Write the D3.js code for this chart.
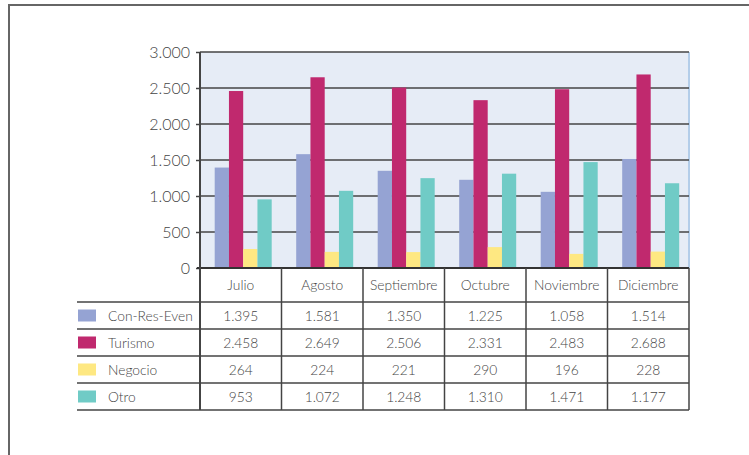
<!DOCTYPE html>
<head>
<meta charset="utf-8">
<style>
body { margin: 0; background: #fff; }
text { font-family: Lato, "Open Sans", sans-serif; font-weight: 300; fill: #444; }
</style>
</head>
<body>
<script src="https://cdnjs.cloudflare.com/ajax/libs/d3/7.8.5/d3.min.js"></script>
<script>

var months = ['Julio', 'Agosto', 'Septiembre', 'Octubre', 'Noviembre', 'Diciembre'];
var seriesNames = ['Con-Res-Even', 'Turismo', 'Negocio', 'Otro'];
var conResEven = [1395, 1581, 1350, 1225, 1058, 1514];
var turismo = [2458, 2649, 2506, 2331, 2483, 2688];
var negocio = [264, 224, 221, 290, 196, 228];
var otro = [953, 1072, 1248, 1310, 1471, 1177];
var yTicks = [0, 500, 1000, 1500, 2000, 2500, 3000];
var colors = ['#95a3d3', '#c0296e', '#fee882', '#70cbc6'];

var series = [conResEven, turismo, negocio, otro];

var width = 749, height = 455;
var plotLeft = 200, plotRight = 689, plotTop = 52, zero = 268;
var headerH = 34, rowH = 27;

var fmt = d3.formatLocale({ decimal: ',', thousands: '.', grouping: [3], currency: ['', ''] }).format(',d');

var svg = d3.select('body').append('svg')
    .attr('width', width)
    .attr('height', height);

// outer frame
svg.append('line').attr('x1', 9).attr('x2', width).attr('y1', 5).attr('y2', 5)
    .attr('stroke', '#666').attr('stroke-width', 2);
svg.append('line').attr('x1', 9).attr('x2', 9).attr('y1', 4).attr('y2', height)
    .attr('stroke', '#666').attr('stroke-width', 2);

var x0 = d3.scaleBand().domain(months).range([plotLeft, plotRight]);
var x1 = d3.scaleBand().domain(seriesNames).range([0, x0.bandwidth()]).paddingOuter(0.86).align(0.6);
var y = d3.scaleLinear().domain([0, 3000]).range([zero, plotTop]);

svg.append('rect')
    .attr('x', plotLeft).attr('y', plotTop)
    .attr('width', plotRight - plotLeft).attr('height', zero - plotTop)
    .attr('fill', '#e6ecf6');
svg.append('line').attr('x1', plotRight).attr('x2', plotRight).attr('y1', plotTop).attr('y2', zero)
    .attr('stroke', '#b3cde9').attr('stroke-width', 2);

// gridlines
svg.append('g').selectAll('line').data(yTicks.slice(1)).join('line')
    .attr('x1', plotLeft).attr('x2', plotRight)
    .attr('y1', function(d) { return y(d); }).attr('y2', function(d) { return y(d); })
    .attr('stroke', '#444').attr('stroke-width', 1.5);

// bars
var groups = svg.append('g').selectAll('g').data(months).join('g')
    .attr('transform', function(m) { return 'translate(' + x0(m) + ',0)'; });

groups.selectAll('rect').data(function(m, i) {
    return seriesNames.map(function(s, j) { return { s: s, v: series[j][i], c: colors[j] }; });
  }).join('rect')
    .attr('x', function(d) { return x1(d.s); })
    .attr('width', x1.bandwidth())
    .attr('y', function(d) { return y(d.v); })
    .attr('height', function(d) { return zero - y(d.v); })
    .attr('fill', function(d) { return d.c; });

// y axis
var yAxis = svg.append('g')
    .attr('transform', 'translate(' + plotLeft + ',0)')
    .call(d3.axisLeft(y).tickValues(yTicks).tickSize(4).tickPadding(6).tickFormat(fmt));
yAxis.select('.domain').remove();
yAxis.selectAll('line').attr('stroke', '#444').attr('stroke-width', 1.5);
yAxis.selectAll('text').attr('font-size', 16).attr('fill', '#444').attr('font-family', null);

svg.append('line').attr('x1', plotLeft - 3).attr('x2', plotRight).attr('y1', zero).attr('y2', zero)
    .attr('stroke', '#333').attr('stroke-width', 2);

// data table
var tableBottom = zero + headerH + rowH * series.length;
svg.append('line').attr('x1', plotLeft).attr('x2', plotLeft).attr('y1', plotTop).attr('y2', tableBottom)
    .attr('stroke', '#444').attr('stroke-width', 2);

var colEdges = months.map(function(m) { return x0(m) + x0.bandwidth(); });
svg.append('g').selectAll('line').data(colEdges).join('line')
    .attr('x1', function(d) { return d; }).attr('x2', function(d) { return d; })
    .attr('y1', zero).attr('y2', tableBottom)
    .attr('stroke', '#444').attr('stroke-width', 1.5);

var rowLines = d3.range(series.length + 1).map(function(i) { return zero + headerH + i * rowH; });
svg.append('g').selectAll('line').data(rowLines).join('line')
    .attr('x1', 77).attr('x2', plotRight)
    .attr('y1', function(d) { return d; }).attr('y2', function(d) { return d; })
    .attr('stroke', '#444').attr('stroke-width', 1.5);

svg.append('g').selectAll('text').data(months).join('text')
    .attr('x', function(m) { return x0(m) + x0.bandwidth() / 2; })
    .attr('y', zero + headerH / 2 + 5)
    .attr('text-anchor', 'middle')
    .attr('font-size', 13.8)
    .text(function(m) { return m; });

var rows = svg.append('g').selectAll('g').data(seriesNames).join('g')
    .attr('transform', function(s, j) { return 'translate(0,' + (zero + headerH + j * rowH) + ')'; });

rows.append('rect')
    .attr('x', 78).attr('y', rowH / 2 - 6)
    .attr('width', 18).attr('height', 12)
    .attr('fill', function(s, j) { return colors[j]; });

rows.append('text')
    .attr('x', 108).attr('y', rowH / 2 + 5)
    .attr('font-size', 13.8)
    .text(function(s) { return s; });

rows.selectAll('text.v').data(function(s, j) { return series[j]; }).join('text')
    .attr('class', 'v')
    .attr('x', function(v, i) { return x0(months[i]) + x0.bandwidth() / 2; })
    .attr('y', rowH / 2 + 5)
    .attr('text-anchor', 'middle')
    .attr('font-size', 13.8)
    .text(function(v) { return fmt(v); });

</script>
</body>
</html>
